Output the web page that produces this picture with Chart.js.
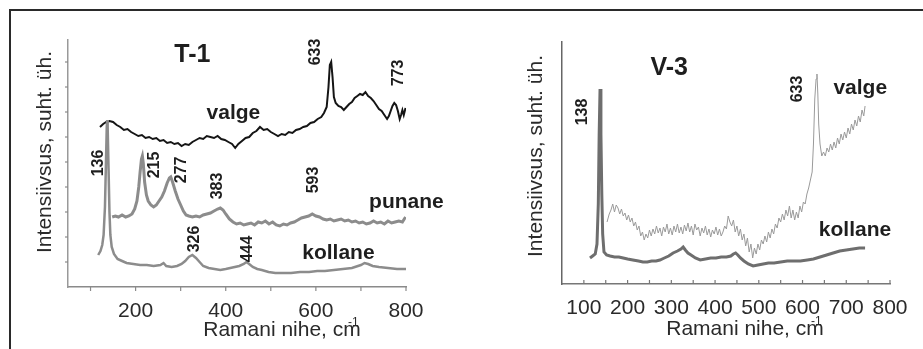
<!DOCTYPE html>
<html>
<head>
<meta charset="utf-8">
<script src="https://cdn.jsdelivr.net/npm/chart.js@4.4.1/dist/chart.umd.min.js"></script>
<style>
  html, body { margin: 0; padding: 0; background: #fff; width: 923px; height: 349px; overflow: hidden; }
  body { position: relative; }
  .line { position: absolute; background: #2a2a2a; }
  .box { position: absolute; top: 0; height: 349px; }
</style>
</head>
<body>
<div class="line" style="left:9px;top:9px;width:914px;height:2px"></div>
<div class="line" style="left:9px;top:9px;width:2px;height:340px"></div>
<div class="box" style="left:0;width:460px"><canvas id="chartT1"></canvas></div>
<div class="box" style="left:460px;width:463px"><canvas id="chartV3"></canvas></div>
<script>
// T-1 spektrid: [Ramani nihe, intensiivsus]
const t1Valge = [[121,160],[128,163],[135,165],[142,166],[150,165],[158,162],[166,160],[174,157],[182,158],[190,155],
  [198,153],[206,151],[214,152],[222,149],[230,150],[238,148],[246,149],[254,146],[262,147],[270,144],[278,145],
  [286,143],[294,144],[302,141],[310,143],[318,142],[326,145],[334,147],[342,149],[350,148],[358,151],[366,150],
  [374,149],[382,151],[390,148],[398,147],[406,145],[414,143],[421,139],[428,143],[436,146],[444,149],[452,150],
  [460,154],[468,156],[476,160],[484,157],[492,158],[500,155],[508,153],[516,151],[524,153],[532,152],[540,155],
  [548,154],[556,157],[564,158],[572,160],[580,161],[588,164],[596,165],[604,168],[612,170],[618,174],[624,180],
  [628,200],[631,222],[634,225],[637,210],[640,190],[644,184],[650,181],[656,180],[662,177],[668,180],[674,183],
  [680,185],[686,189],[692,191],[698,193],[704,192],[710,195],[716,191],[722,189],[728,186],[734,182],[740,178],
  [746,176],[752,172],[758,168],[762,171],[766,176],[770,181],[774,184],[778,182],[782,176],[786,168],[789,172],
  [792,177],[795,172],[799,179]];
const t1Punane = [[148,70],[155,71],[162,70],[170,72],[178,70],[185,71],[192,73],[198,78],[203,86],[207,100],
  [210,115],[213,128],[215,131],[217,124],[220,105],[224,92],[228,86],[234,82],[240,80],[246,82],[252,86],
  [258,90],[264,96],[270,104],[275,109],[278,110],[282,105],[288,96],[294,88],[300,82],[306,76],[312,72],
  [318,71],[326,70],[334,71],[342,70],[350,72],[358,73],[366,74],[374,76],[382,78],[388,79],[394,77],[400,73],
  [408,68],[416,65],[424,63],[432,64],[440,62],[448,63],[456,64],[464,62],[472,65],[480,64],[488,66],[496,63],
  [504,65],[512,62],[520,61],[528,63],[536,62],[544,64],[552,65],[560,67],[568,69],[576,70],[584,71],[592,73],
  [600,71],[608,70],[616,68],[624,67],[632,68],[640,66],[648,67],[656,68],[664,66],[672,67],[680,65],[688,66],
  [696,64],[704,65],[712,63],[720,64],[728,66],[736,64],[744,65],[752,63],[760,66],[768,64],[776,65],[784,66],
  [792,65],[799,70]];
const t1Kollane = [[117,32],[122,36],[126,42],[129,52],[132,80],[134,120],[136,160],[137,167],[138,160],[140,118],
  [142,75],[144,52],[147,40],[152,33],[160,28],[170,26],[180,24],[195,23],[210,22],[225,22],[240,21],[255,22],
  [262,24],[268,21],[280,20],[292,21],[302,23],[310,26],[318,30],[326,32],[334,29],[342,25],[350,21],[362,19],
  [375,18],[388,17],[400,18],[410,19],[420,20],[430,21],[440,23],[446,25],[452,23],[460,20],[470,18],[480,17],
  [495,15],[510,14],[528,14],[545,14],[565,15],[585,15],[603,16],[620,16],[640,17],[660,18],[680,19],[700,22],
  [708,24],[716,23],[726,21],[740,20],[760,19],[780,18],[801,18]];

// V-3 spektrid
const v3Kollane = [[114,26],[120,28],[126,30],[130,40],[133,80],[135,150],[137,195],[139,150],[141,90],[143,50],
  [146,32],[152,29],[160,28],[170,27],[180,27],[190,26],[200,25],[212,24],[225,23],[235,22],[245,22],[255,23],
  [265,23],[274,24],[284,26],[294,28],[304,31],[314,33],[322,35],[327,37],[332,34],[338,31],[345,29],[355,26],
  [366,24],[378,25],[390,26],[402,26],[414,27],[426,27],[436,28],[442,30],[447,31],[452,29],[458,26],[466,23],
  [476,20],[487,18],[498,19],[510,20],[522,21],[535,21],[550,22],[565,23],[580,23],[595,23],[611,24],[625,25],
  [640,27],[655,29],[670,31],[685,33],[700,34],[715,35],[730,36],[743,36]];
const v3Valge = [[153,62],[158,70],[162,74],[166,80],[170,72],[174,79],[178,76],[182,70],[186,75],[190,68],
  [194,71],[198,64],[202,69],[206,62],[210,66],[214,58],[218,62],[222,54],[226,58],[230,48],[234,52],[238,44],
  [242,50],[246,46],[250,54],[254,48],[258,55],[262,50],[266,58],[270,51],[274,56],[278,48],[282,57],[286,52],
  [290,60],[294,50],[298,56],[302,49],[306,58],[310,52],[314,60],[318,51],[322,57],[326,50],[330,59],[334,53],
  [338,61],[342,52],[346,58],[350,49],[354,60],[358,54],[362,57],[366,48],[370,56],[374,51],[378,58],[382,49],
  [386,55],[390,47],[394,54],[398,50],[402,57],[406,49],[410,55],[414,48],[418,52],[422,58],[426,55],[430,68],
  [434,62],[438,58],[442,64],[446,52],[450,58],[454,48],[458,55],[462,44],[466,50],[470,38],[474,46],[478,32],
  [482,40],[486,26],[490,36],[494,30],[498,40],[502,34],[506,44],[510,40],[514,48],[518,42],[522,52],[526,46],
  [530,55],[534,50],[538,60],[542,56],[546,66],[550,62],[554,70],[558,64],[562,74],[566,68],[570,78],[574,66],
  [578,74],[582,64],[586,72],[590,66],[594,78],[598,72],[602,82],[606,80],[610,90],[614,96],[618,104],[622,112],
  [625,140],[628,185],[631,205],[633,210],[635,190],[637,160],[640,140],[644,128],[648,132],[652,128],[656,136],
  [660,132],[664,140],[668,134],[672,142],[676,136],[680,146],[684,140],[688,150],[692,144],[696,152],[700,146],
  [704,156],[708,150],[712,160],[716,154],[720,164],[724,158],[728,168],[732,162],[736,174],[740,168],[743,178]];

// teljed
const t1XTicks = [100, 200, 300, 400, 500, 600, 700, 800];
const t1XLabels = [200, 400, 600, 800];
const v3XTicks = [100, 150, 200, 250, 300, 350, 400, 450, 500, 550, 600, 650, 700, 750, 800];
const v3XLabels = [100, 200, 300, 400, 500, 600, 700, 800];
const t1YTicks = [25, 50, 75, 100, 125, 150, 175, 200, 225];

// sildid: [tekst, x, y]
const t1Peaks = [['136',117,124],['215',243,122],['277',301,117],['383',383,101],['593',594,107],
  ['633',599,235],['773',783,214],['326',330,48],['444',448,38]];
const t1Names = [['valge',417,174],['punane',801,85],['kollane',650,34]];
const v3Peaks = [['138',98,172],['633',588,195]];
const v3Names = [['valge',732,196],['kollane',720,54]];

const FONT = '"Liberation Sans", Arial, sans-serif';

// tekstid ja kriipsud
const extras = {
  id: 'extras',
  afterDraw(chart) {
    const c = chart.config.options.extra;
    const ctx = chart.ctx, xs = chart.scales.x, ys = chart.scales.y;
    const area = chart.chartArea;
    ctx.save();
    // tick marks (dir -1 = outward, +1 = inward)
    ctx.strokeStyle = c.tickColor; ctx.lineWidth = 1.2;
    xs.ticks.forEach(t => {
      const px = xs.getPixelForValue(t.value);
      ctx.beginPath(); ctx.moveTo(px, area.bottom); ctx.lineTo(px, area.bottom - 4 * c.tickDir); ctx.stroke();
    });
    (c.yTicks || []).forEach(v => {
      const py = ys.getPixelForValue(v);
      ctx.beginPath(); ctx.moveTo(area.left, py); ctx.lineTo(area.left + 3 * c.tickDir, py); ctx.stroke();
    });
    ctx.fillStyle = '#1e1e1e';
    ctx.textAlign = 'center'; ctx.textBaseline = 'middle';
    // peak labels
    ctx.font = 'bold 16px ' + FONT;
    c.peaks.forEach(([t, x, y]) => {
      ctx.save();
      ctx.translate(xs.getPixelForValue(x), ys.getPixelForValue(y));
      ctx.rotate(-Math.PI / 2);
      ctx.fillText(t, 0, 0);
      ctx.restore();
    });
    ctx.font = 'bold 21px ' + FONT;
    c.names.forEach(([t, x, y]) => ctx.fillText(t, xs.getPixelForValue(x), ys.getPixelForValue(y)));
    ctx.font = 'bold 25px ' + FONT;
    ctx.fillText(c.title[0], xs.getPixelForValue(c.title[1]), ys.getPixelForValue(c.title[2]));
    // axis titles
    ctx.fillStyle = '#2a2a2a';
    ctx.font = '21px ' + FONT;
    ctx.fillText('Ramani nihe, cm', c.xTitle[0], c.xTitle[1]);
    const w = ctx.measureText('Ramani nihe, cm').width;
    ctx.font = '12px ' + FONT;
    ctx.textAlign = 'right';
    ctx.fillText('-1', c.xTitle[0] + w / 2 - 2, c.xTitle[1] - 7);
    ctx.textAlign = 'center';
    ctx.font = '21px ' + FONT;
    ctx.save();
    ctx.translate(c.yTitle[0], c.yTitle[1]);
    ctx.rotate(-Math.PI / 2);
    ctx.fillText('Intensiivsus, suht. üh.', 0, 0);
    ctx.restore();
    ctx.restore();
  }
};

function makeChart(id, cfg) {
  return new Chart(id, {
    type: 'line',
    data: {
      datasets: cfg.series.map(s => ({
        data: s.points.map(p => ({ x: p[0], y: p[1] })),
        borderColor: s.color, borderWidth: s.width,
        pointRadius: 0, tension: 0, fill: false
      }))
    },
    options: {
      responsive: true, maintainAspectRatio: false, animation: false,
      layout: { padding: cfg.padding },
      plugins: { legend: { display: false }, tooltip: { enabled: false } },
      extra: cfg.extra,
      scales: {
        x: {
          type: 'linear', min: 50, max: 800,
          grid: { display: false },
          border: { color: cfg.xAxisColor, width: 1.5 },
          afterBuildTicks: s => { s.ticks = cfg.xTicks.map(v => ({ value: v })); },
          ticks: {
            autoSkip: false, maxRotation: 0, padding: 4, color: '#2a2a2a',
            font: { family: FONT, size: 21 },
            callback: v => cfg.xLabels.includes(v) ? String(v) : ''
          },
          afterFit: s => { s.height = cfg.xAxisHeight; }
        },
        y: {
          type: 'linear', min: 0, max: cfg.yMax,
          grid: { display: false },
          border: { color: cfg.yAxisColor, width: 1.5 },
          ticks: { display: false },
          afterFit: s => { s.width = cfg.yAxisWidth; }
        }
      }
    },
    plugins: [extras]
  });
}

makeChart('chartT1', {
  series: [
    { points: t1Kollane, color: '#8c8c8c', width: 2.5 },
    { points: t1Punane, color: '#8c8c8c', width: 3 },
    { points: t1Valge, color: '#151515', width: 2 }
  ],
  padding: { top: 40, right: 54, left: 0, bottom: 0 },
  yAxisWidth: 68, xAxisHeight: 62, yMax: 247,
  xTicks: t1XTicks, xLabels: t1XLabels,
  xAxisColor: '#8a8a8a', yAxisColor: '#999',
  extra: { peaks: t1Peaks, names: t1Names, title: ['T-1', 326, 232], yTicks: t1YTicks, tickDir: -1,
           tickColor: '#8a8a8a', xTitle: [282, 330], yTitle: [45, 152] }
});

makeChart('chartV3', {
  series: [
    { points: v3Valge, color: '#9a9a9a', width: 1 },
    { points: v3Kollane, color: '#6e6e6e', width: 3 }
  ],
  padding: { top: 42, right: 33, left: 0, bottom: 0 },
  yAxisWidth: 102, xAxisHeight: 65, yMax: 242,
  xTicks: v3XTicks, xLabels: v3XLabels,
  xAxisColor: '#777', yAxisColor: '#666',
  extra: { peaks: v3Peaks, names: v3Names, title: ['V-3', 295, 216], yTicks: [], tickDir: 1,
           tickColor: '#777', xTitle: [285, 329], yTitle: [76, 156] }
});
</script>
</body>
</html>
